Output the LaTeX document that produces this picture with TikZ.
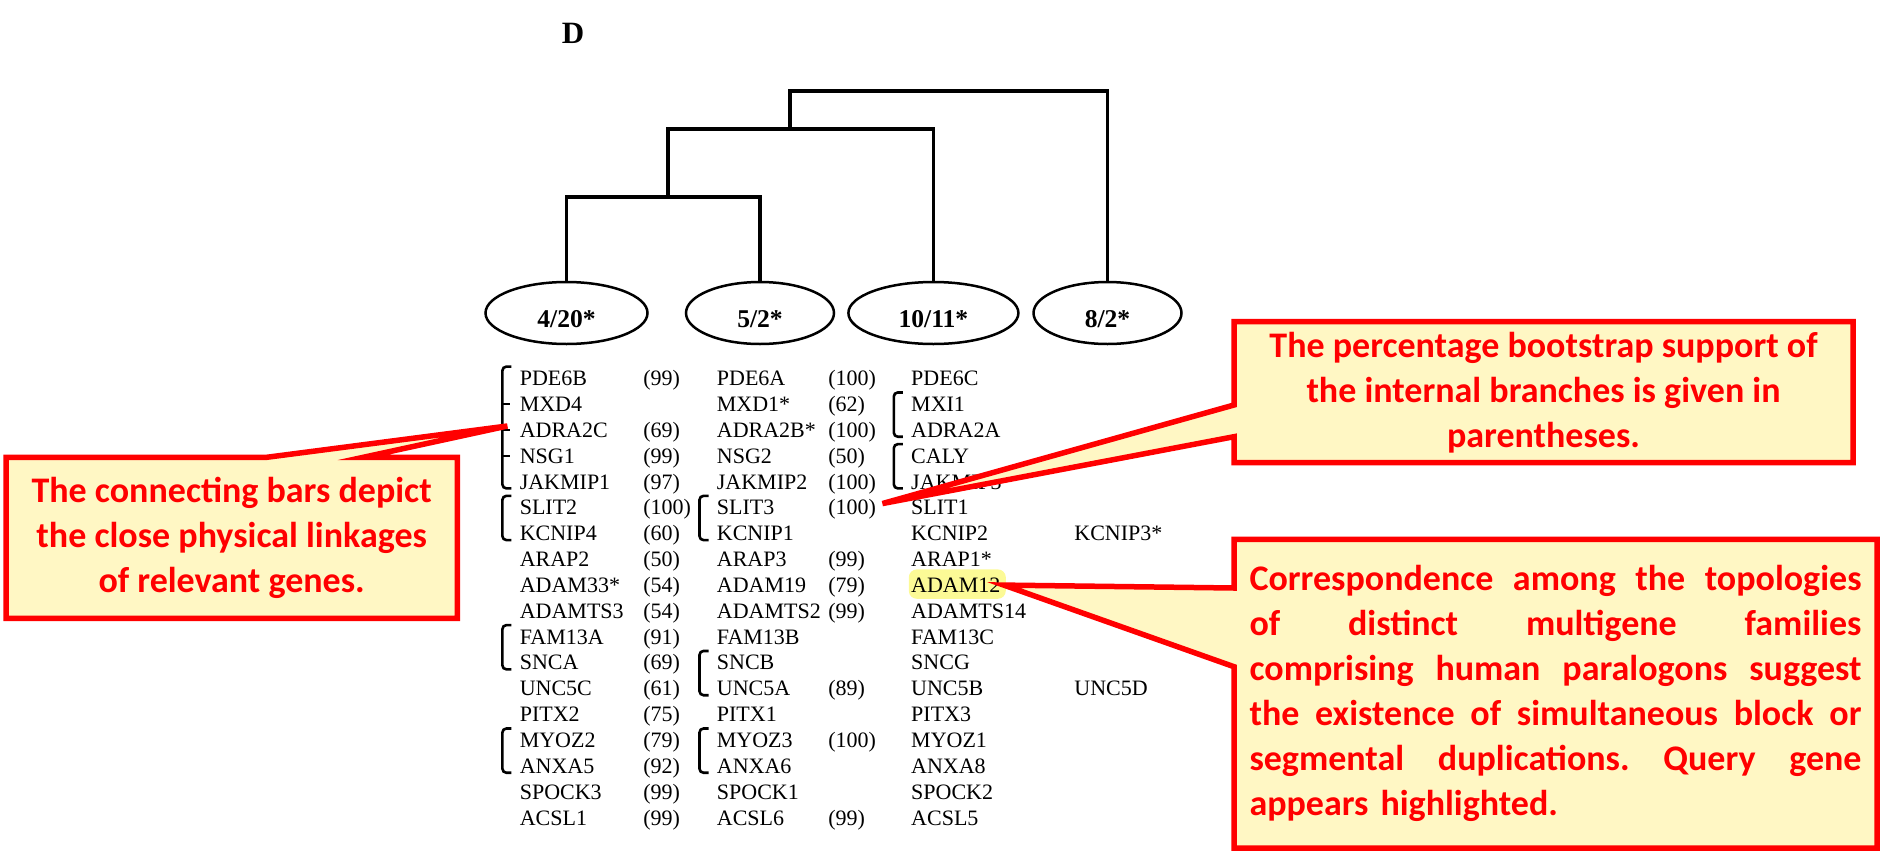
\documentclass[tikz,border=0pt]{standalone}
\usepackage{fontspec}
\setmainfont{Liberation Serif}
\newfontfamily\notefont{Carlito}
\usetikzlibrary{shapes,calc}
\pgfdeclarelayer{background}
\pgfdeclarelayer{notes}
\pgfdeclarelayer{notetext}
\pgfsetlayers{background,main,notes,notetext}
\definecolor{noteRed}{RGB}{255,0,0}
\definecolor{noteFill}{RGB}{255,247,196}
\definecolor{queryFill}{RGB}{252,250,150}
\newcommand{\spreadline}[1]{\leavevmode\hbox to 306pt{\spaceskip=.23em plus 1fil\xspaceskip=.23em plus 1fil\relax #1}}

\begin{document}
\begin{tikzpicture}
[x=0.5pt,y=-0.5pt,
  treeDecorate/.style={-,line width=1.9pt,line join=miter},%
  chromDecorate/.style={shape=ellipse,draw,line width=1.25pt,inner sep=0pt,minimum height=31pt,
    text height=14.7pt,text depth=0pt,font=\fontsize{12.8}{14}\selectfont\bfseries},%
  geneDecorate/.style={anchor=base west,inner sep=0pt,text height=7.3pt,text depth=0pt,
    font=\fontsize{11}{13}\selectfont},%
  barDecorate/.style={-,line width=1.3pt,rounded corners=2pt},%
  noteDecorate/.style={draw=noteRed,fill=noteFill,line width=2.75pt,line join=miter},%
  noteText/.style={inner sep=0pt,outer sep=0pt,text=noteRed,align=center,
    font=\notefont\bfseries\fontsize{18}{22.5}\selectfont}]
\useasboundingbox (0,0) rectangle (1885,851);
%% panel letter
\node (panelD) at (573,33) [font=\fontsize{15.5}{17}\selectfont\bfseries] {D};
%% chromosome blocks
\node (chr4) at (566.5,313) [chromDecorate,minimum width=81pt] {4/20*};
\node (chr5) at (760,313) [chromDecorate,minimum width=74pt] {5/2*};
\node (chr10) at (933.4,313) [chromDecorate,minimum width=85pt] {10/11*};
\node (chr8) at (1107.5,313) [chromDecorate,minimum width=74pt] {8/2*};
%% tree
\coordinate (split3) at (668,197.3);
\coordinate (split2) at (789.6,129.3);
\coordinate (split1) at (948,90.7);
\draw[treeDecorate] (chr4.north) |- (split3) -| (chr5.north);
\draw[treeDecorate] (split3) |- (split2) -| (chr10.north);
\draw[treeDecorate] (split2) |- (split1) -| (chr8.north);
%% paralogon table
\foreach \row/\genea/\boota/\geneb/\bootb/\genec in {
  0/PDE6B/(99)/PDE6A/(100)/PDE6C, 1/MXD4//MXD1*/(62)/MXI1,
  2/ADRA2C/(69)/ADRA2B*/(100)/ADRA2A, 3/NSG1/(99)/NSG2/(50)/CALY,
  4/JAKMIP1/(97)/JAKMIP2/(100)/JAKMIP3, 5/SLIT2/(100)/SLIT3/(100)/SLIT1,
  6/KCNIP4/(60)/KCNIP1//KCNIP2, 7/ARAP2/(50)/ARAP3/(99)/ARAP1*,
  8/ADAM33*/(54)/ADAM19/(79)/ADAM12, 9/ADAMTS3/(54)/ADAMTS2/(99)/ADAMTS14,
  10/FAM13A/(91)/FAM13B//FAM13C, 11/SNCA/(69)/SNCB//SNCG,
  12/UNC5C/(61)/UNC5A/(89)/UNC5B, 13/PITX2/(75)/PITX1//PITX3,
  14/MYOZ2/(79)/MYOZ3/(100)/MYOZ1, 15/ANXA5/(92)/ANXA6//ANXA8,
  16/SPOCK3/(99)/SPOCK1//SPOCK2, 17/ACSL1/(99)/ACSL6/(99)/ACSL5}
{
  \pgfmathsetmacro{\y}{385.6+25.85*\row}
  \node (ga\row) at (519.4,\y) [geneDecorate] {\genea};
  \node (ba\row) at (643,\y) [geneDecorate] {\boota};
  \node (gb\row) at (716.5,\y) [geneDecorate] {\geneb};
  \node (bb\row) at (828,\y) [geneDecorate] {\bootb};
  \node (gc\row) at (910.8,\y) [geneDecorate] {\genec};
}
\node (gd6) at (1074,540.7) [geneDecorate] {KCNIP3*};
\node (gd12) at (1074,695.8) [geneDecorate] {UNC5D};
%% connecting bars
\foreach \col/\ra/\rb in {a/0/4, c/1/2, c/3/4, a/5/6, b/5/6, a/10/11, b/11/12, a/14/15, b/14/15}
{
  \draw[barDecorate] ($(g\col\ra.north west)+(-8,-4)$) -- ($(g\col\ra.north west)+(-17,-4)$)
    -- ($(g\col\rb.south west)+(-17,-1)$) -- ($(g\col\rb.south west)+(-8,-1)$);
}
\foreach \row in {1,2,3}
  \draw[barDecorate] ($(ga\row.west)+(-17,0)$) -- ($(ga\row.west)+(-9,0)$);
%% query gene
\begin{pgfonlayer}{background}
\fill[queryFill,rounded corners=4pt] ($(gc8.south west)+(-2,6)$) rectangle ($(gc8.north east)+(5,-8)$);
\end{pgfonlayer}
%% callouts
\begin{pgfonlayer}{notetext}
\node (linkNote) at (231.65,537.8) [noteText,minimum width=225.65pt,minimum height=80.5pt]
  {The connecting bars depict\\the close physical linkages\\of relevant genes.};
\node (bootNote) at (1543.5,392.2) [noteText,minimum width=309.5pt,minimum height=70.5pt]
  {The percentage bootstrap support of\\the internal branches is given in\\parentheses.};
\node (queryNote) at (1555.5,693.65) [noteText,align=left,text width=306pt,minimum width=321.5pt,minimum height=154.35pt]
  {\spreadline{Correspondence among the topologies}\\
   \spreadline{of distinct multigene families}\\
   \spreadline{comprising human paralogons suggest}\\
   \spreadline{the existence of simultaneous block or}\\
   \spreadline{segmental duplications. Query gene}\\
   appears highlighted.};
\end{pgfonlayer}
\coordinate (linkTip) at ($(ga2.west)+(-12,-4)$);
\coordinate (bootTip) at ($(bb5.east)+(6,-4)$);
\coordinate (queryTip) at ($(gc8.east)+(3,0)$);
\begin{pgfonlayer}{notes}
\path[noteDecorate] (linkNote.north west) -- ($(linkNote.north west)+(260.7,0)$) -- (linkTip)
  -- ($(linkNote.north west)+(357.3,0)$) -- (linkNote.north east) -- (linkNote.south east)
  -- (linkNote.south west) -- cycle;
\path[noteDecorate] (bootNote.north west) -- (bootNote.north east) -- (bootNote.south east)
  -- (bootNote.south west) -- ($(bootNote.north west)+(0,115)$) -- (bootTip)
  -- ($(bootNote.north west)+(0,83.3)$) -- cycle;
\path[noteDecorate] (queryNote.north west) -- (queryNote.north east) -- (queryNote.south east)
  -- (queryNote.south west) -- ($(queryNote.north west)+(0,127.4)$) -- (queryTip)
  -- ($(queryNote.north west)+(0,48.7)$) -- cycle;
\end{pgfonlayer}
\end{tikzpicture}
\end{document}
